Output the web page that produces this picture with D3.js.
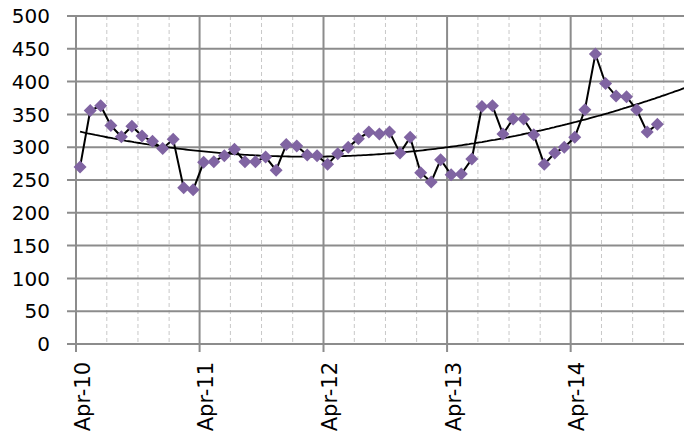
<!DOCTYPE html>
<html>
<head>
<meta charset="utf-8">
<script src="https://cdn.jsdelivr.net/npm/d3@7"></script>
<style>
  html, body { margin: 0; padding: 0; background: #fff; }
  svg { display: block; }
  text { font-family: "DejaVu Sans", sans-serif; font-size: 20px; fill: #000; }
  .xlab { font-size: 21px; }
</style>
</head>
<body>
<div id="chart"></div>
<script>
// monthly values, Apr-10 .. Dec-14
const startMonth = new Date(2010, 3, 13);
const values = [
  270, 356, 363, 333, 316, 332, 317, 309, 298, 312,
  238, 235, 277, 278, 287, 297, 278, 278, 285, 265,
  304, 302, 288, 287, 274, 290, 300, 313, 323, 320,
  323, 291, 315, 261, 247, 281, 258, 259, 282, 362,
  363, 320, 343, 343, 319, 274, 291, 300, 315, 357,
  442, 397, 378, 377, 357, 323, 335
];
const yTicks = [0, 50, 100, 150, 200, 250, 300, 350, 400, 450, 500];
const xTickLabels = ['Apr-10', 'Apr-11', 'Apr-12', 'Apr-13', 'Apr-14'];

const data = values.map((v, i) => ({ date: d3.timeMonth.offset(startMonth, i), value: v }));

const width = 684, height = 436;
const margin = { top: 16, left: 76, bottom: 92 };

const svg = d3.select('#chart').append('svg')
  .attr('width', width)
  .attr('height', height);

const x = d3.scaleTime()
  .domain([new Date(2010, 3, 1), new Date(2015, 3, 1)])
  .range([margin.left, margin.left + 5 * 123.65]);

const y = d3.scaleLinear()
  .domain([0, 500])
  .range([height - margin.bottom, margin.top]);

const right = width;

// minor (quarterly) dashed gridlines
const minor = d3.timeMonth.every(3).range(new Date(2010, 3, 1), new Date(2015, 3, 2))
  .filter(d => d.getMonth() !== 3);
svg.append('g').selectAll('line').data(minor).enter().append('line')
  .attr('x1', d => x(d)).attr('x2', d => x(d))
  .attr('y1', y(500)).attr('y2', y(0))
  .attr('stroke', '#c8c8c8')
  .attr('stroke-width', 1)
  .attr('stroke-dasharray', '4,3');

// major gridlines
const major = d3.timeYear.every(1).range(new Date(2010, 0, 1), new Date(2016, 0, 1))
  .map(d => new Date(d.getFullYear(), 3, 1));
svg.append('g').selectAll('line').data(major).enter().append('line')
  .attr('x1', d => x(d)).attr('x2', d => x(d))
  .attr('y1', y(500)).attr('y2', y(0) + 8)
  .attr('stroke', '#8c8c8c')
  .attr('stroke-width', 2);

svg.append('g').selectAll('line').data(yTicks).enter().append('line')
  .attr('x1', margin.left - 9).attr('x2', right)
  .attr('y1', d => y(d)).attr('y2', d => y(d))
  .attr('stroke', '#8c8c8c')
  .attr('stroke-width', 2);

// y labels
svg.append('g').selectAll('text').data(yTicks).enter().append('text')
  .attr('x', 50)
  .attr('y', d => y(d))
  .attr('dy', '0.36em')
  .attr('text-anchor', 'end')
  .text(d => d);

// x labels
svg.append('g').selectAll('text').data(major.slice(0, xTickLabels.length)).enter().append('text')
  .attr('class', 'xlab')
  .attr('transform', d => `translate(${x(d) + 6},${y(0) + 18}) rotate(-90)`)
  .attr('text-anchor', 'end')
  .attr('dy', '0.36em')
  .text((d, i) => xTickLabels[i]);

// polynomial (order 2) trendline, least squares on month index
function polyFit(xs, ys, order) {
  const n = order + 1;
  const A = Array.from({ length: n }, () => new Array(n + 1).fill(0));
  xs.forEach((xv, k) => {
    for (let r = 0; r < n; r++) {
      for (let c = 0; c < n; c++) A[r][c] += Math.pow(xv, r + c);
      A[r][n] += ys[k] * Math.pow(xv, r);
    }
  });
  for (let i = 0; i < n; i++) {
    let p = i;
    for (let r = i + 1; r < n; r++) if (Math.abs(A[r][i]) > Math.abs(A[p][i])) p = r;
    [A[i], A[p]] = [A[p], A[i]];
    for (let r = 0; r < n; r++) {
      if (r === i) continue;
      const f = A[r][i] / A[i][i];
      for (let c = i; c <= n; c++) A[r][c] -= f * A[i][c];
    }
  }
  return A.map((row, i) => row[n] / row[i]);
}
const idx = values.map((v, i) => i);
const coef = polyFit(idx, values, 2);
const trend = [];
for (let t = 0; t <= 62; t += 0.25) {
  trend.push({ date: d3.timeDay.offset(startMonth, t * 30.44), value: coef[0] + coef[1] * t + coef[2] * t * t });
}
svg.append('path')
  .datum(trend.filter(d => x(d.date) <= right + 5))
  .attr('fill', 'none')
  .attr('stroke', '#000')
  .attr('stroke-width', 1.8)
  .attr('d', d3.line().x(d => x(d.date)).y(d => y(d.value)));

// data line
svg.append('path')
  .datum(data)
  .attr('fill', 'none')
  .attr('stroke', '#000')
  .attr('stroke-width', 2)
  .attr('d', d3.line().x(d => x(d.date)).y(d => y(d.value)));

// diamond markers
svg.append('g').selectAll('path').data(data).enter().append('path')
  .attr('transform', d => `translate(${x(d.date)},${y(d.value)})`)
  .attr('d', 'M0,-6.5L6.5,0L0,6.5L-6.5,0Z')
  .attr('fill', '#8064a2');
</script>
</body>
</html>
